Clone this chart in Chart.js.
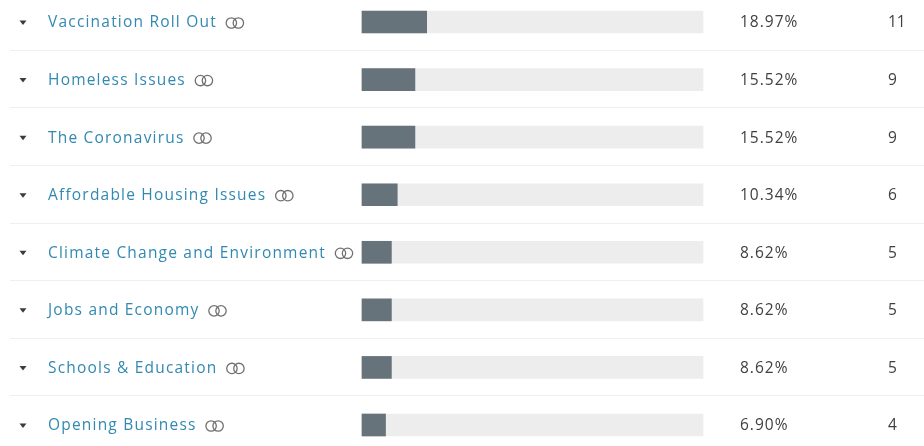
<!DOCTYPE html>
<html>
<head>
<meta charset="utf-8">
<script src="https://cdn.jsdelivr.net/npm/chart.js@4.4.0/dist/chart.umd.min.js"></script>
<style>
  html, body { margin: 0; padding: 0; background: #fff; }
  #wrap { width: 924px; height: 446px; }
</style>
</head>
<body>
<div id="wrap"><canvas id="chart" width="924" height="446"></canvas></div>
<script>
// answer choices, share of responses (%) and response counts
const answers = [
    'Vaccination Roll Out',
    'Homeless Issues',
    'The Coronavirus',
    'Affordable Housing Issues',
    'Climate Change and Environment',
    'Jobs and Economy',
    'Schools & Education',
    'Opening Business'
];
const percents = [18.97, 15.52, 15.52, 10.34, 8.62, 8.62, 8.62, 6.90];
const counts = [11, 9, 9, 6, 5, 5, 5, 4];
const trackMax = [100, 100, 100, 100, 100, 100, 100, 100];

const LABEL_FONT = '15.5px "Open Sans", sans-serif';
const VALUE_FONT = '15.5px "Open Sans", sans-serif';

// draws row separators, caret, answer text, link icon, percent and count
const rowDecor = {
    id: 'rowDecor',
    beforeDatasetsDraw(chart) {
        const ctx = chart.ctx;
        const y = chart.scales.y;
        ctx.save();
        ctx.strokeStyle = '#efefef';
        ctx.lineWidth = 1;
        for (let i = 0; i < answers.length - 1; i++) {
            const yy = Math.round((y.getPixelForValue(i) + y.getPixelForValue(i + 1)) / 2) - 0.5;
            ctx.beginPath();
            ctx.moveTo(10, yy);
            ctx.lineTo(chart.width, yy);
            ctx.stroke();
        }
        ctx.restore();
    },
    afterDatasetsDraw(chart) {
        const ctx = chart.ctx;
        const y = chart.scales.y;
        ctx.save();
        ctx.textBaseline = 'middle';
        answers.forEach((name, i) => {
            const cy = y.getPixelForValue(i) + 1;

            // caret
            ctx.fillStyle = '#3b3b3b';
            ctx.beginPath();
            ctx.moveTo(19.5, cy - 2.5);
            ctx.lineTo(26.5, cy - 2.5);
            ctx.lineTo(23, cy + 2);
            ctx.closePath();
            ctx.fill();

            // answer text
            ctx.font = LABEL_FONT;
            ctx.fillStyle = '#3189b2';
            ctx.textAlign = 'left';
            ctx.letterSpacing = '1.2px';
            ctx.fillText(name, 48, cy);
            const w = ctx.measureText(name).width;

            // link icon (two rings)
            const ix = 48 + w + 9;
            ctx.strokeStyle = '#707070';
            ctx.lineWidth = 1.3;
            ctx.beginPath();
            ctx.arc(ix + 5.5, cy, 5.2, 0, Math.PI * 2);
            ctx.stroke();
            ctx.beginPath();
            ctx.arc(ix + 12.5, cy, 5.2, 0, Math.PI * 2);
            ctx.stroke();

            // percent and count
            ctx.font = VALUE_FONT;
            ctx.fillStyle = '#404040';
            ctx.letterSpacing = '1px';
            ctx.fillText(percents[i].toFixed(2) + '%', 740, cy);
            ctx.letterSpacing = '0px';
            ctx.fillText(String(counts[i]), 888, cy);
        });
        ctx.restore();
    }
};

new Chart(document.getElementById('chart'), {
    type: 'bar',
    data: {
        labels: answers,
        datasets: [{
            label: 'Responses',
            data: percents,
            backgroundColor: '#67737b',
            barThickness: 22,
            grouped: false,
            order: 0,
            clip: false
        }, {
            label: 'Track',
            data: trackMax,
            backgroundColor: '#ededed',
            barThickness: 22,
            grouped: false,
            order: 1,
            clip: false
        }]
    },
    options: {
        indexAxis: 'y',
        responsive: false,
        animation: false,
        layout: {
            padding: { left: 362, right: 221, top: 22, bottom: 21 }
        },
        plugins: {
            legend: { display: false },
            tooltip: { enabled: false }
        },
        scales: {
            x: {
                min: 0,
                max: 100,
                display: false
            },
            y: {
                type: 'category',
                offset: false,
                display: false
            }
        }
    },
    plugins: [rowDecor]
});
</script>
</body>
</html>
